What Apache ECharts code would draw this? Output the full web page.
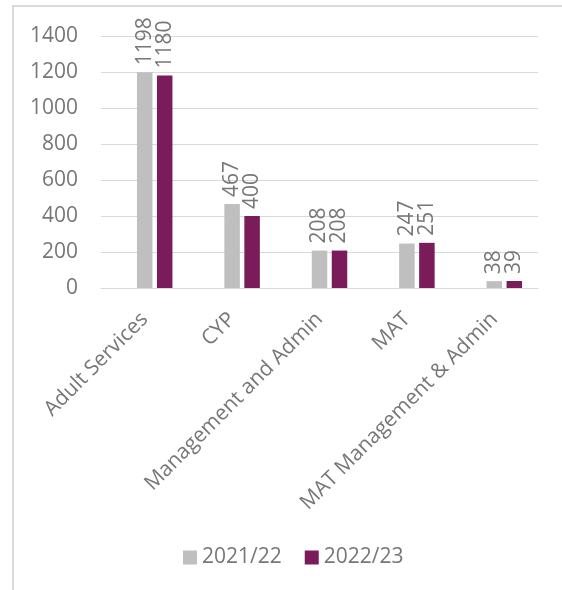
<!DOCTYPE html>
<html><head><meta charset="utf-8">
<script src="https://cdn.jsdelivr.net/npm/echarts@6/dist/echarts.min.js"></script>
<style>html,body{margin:0;padding:0;background:#fff}#c{width:562px;height:590px}</style>
</head><body><div id="c"></div>
<script>
const categories = ['Adult Services','CYP','Management and Admin','MAT','MAT Management & Admin'];
const series2122 = [1198, 467, 208, 247, 38];
const series2223 = [1180, 400, 208, 251, 39];
const yTicks = [0, 200, 400, 600, 800, 1000, 1200, 1400];

const txt = '#777777';
const font = 'Open Sans';
const fs = 21;
const chart = echarts.init(document.getElementById('c'));
const lbl = {show:true, position:'top', rotate:90, align:'left', verticalAlign:'middle', distance:7, color:txt, fontFamily:font, fontSize:fs};
chart.setOption({
  animation:false,
  grid:[
    {left:101, right:24, top:36, bottom:302},
    {left:111, right:14, top:36, bottom:302}
  ],
  xAxis:[
    {gridIndex:0, type:'category', data:categories, axisLine:{show:true, lineStyle:{color:'#d9d9d9'}}, axisTick:{show:false},
     axisLabel:{interval:0, rotate:45, margin:28, color:txt, fontFamily:font, fontSize:fs}},
    {gridIndex:1, type:'category', data:categories, axisLine:{show:false}, axisTick:{show:false}, axisLabel:{show:false}}
  ],
  yAxis:[
    {gridIndex:0, type:'value', min:yTicks[0], max:yTicks[yTicks.length-1], interval:200,
     axisLine:{show:false}, axisTick:{show:false},
     axisLabel:{margin:23, color:txt, fontFamily:font, fontSize:fs, formatter:v=>String(v)},
     splitLine:{lineStyle:{color:'#d9d9d9', width:1}}},
    {gridIndex:1, type:'value', min:yTicks[0], max:yTicks[yTicks.length-1], interval:200, show:false, splitLine:{show:false}}
  ],
  legend:{left:183, top:547, padding:0, itemWidth:14, itemHeight:14, itemGap:23, icon:'rect',
    textStyle:{color:txt, fontFamily:font, fontSize:fs}, data:['2021/22','2022/23']},
  series:[
    {name:'2021/22', type:'bar', xAxisIndex:1, yAxisIndex:1, data:series2122, barWidth:15.5, barGap:'29%', itemStyle:{color:'#bfbfbf'}, label:lbl},
    {name:'2022/23', type:'bar', xAxisIndex:1, yAxisIndex:1, data:series2223, barWidth:15.5, barGap:'29%', itemStyle:{color:'#7b1c5a'}, label:lbl}
  ],
  graphic:[
    {type:'line', shape:{x1:13, y1:6, x2:562, y2:6}, style:{stroke:'#d9d9d9', lineWidth:2}, silent:true},
    {type:'line', shape:{x1:13, y1:5, x2:13, y2:590}, style:{stroke:'#d9d9d9', lineWidth:2}, silent:true}
  ]
});
</script></body></html>
